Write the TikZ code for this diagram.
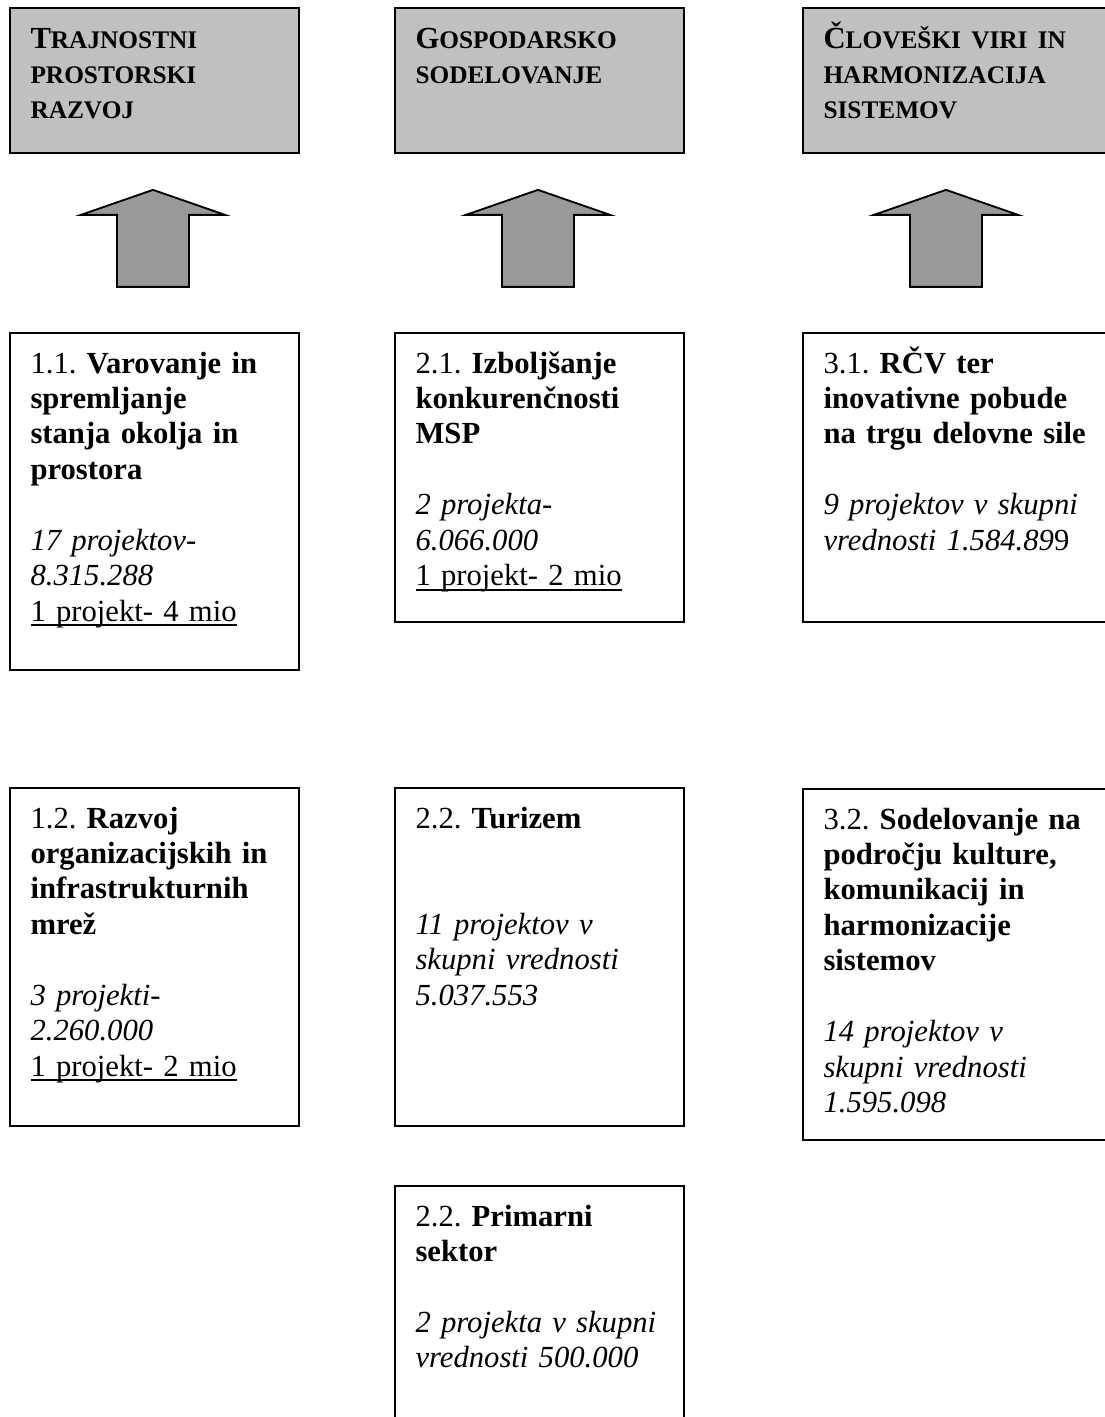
\documentclass[tikz,border=0pt]{standalone}
\usepackage{fontspec}
\setmainfont{Liberation Serif}
\usetikzlibrary{positioning}

\definecolor{topgray}{RGB}{192,192,192}
\definecolor{arrowgray}{RGB}{153,153,153}
% fake small caps: big first letter, rest smaller
\newcommand{\kap}[2]{#1{\fontsize{19}{26.6}\selectfont #2}}
% underline close under the baseline
\newcommand{\podcrtano}[1]{\leavevmode\setbox0\hbox{#1}\rlap{\vrule width\wd0 height -2.25pt depth 3.75pt}\box0}

\tikzset{every picture/.style={line width=0.75pt}}
\tikzset{
	topbox/.style={draw, line width=1.4pt, fill=topgray, minimum width=216.75pt, minimum height=108.75pt, anchor=north west, inner sep=0pt},
	prbox/.style={draw, line width=1.4pt, fill=white, minimum width=216.75pt, anchor=north west, inner sep=0pt},
	boxtext/.style={anchor=base west, inner sep=0pt, text width=215pt, align=left, font=\fontsize{23}{26.6}\selectfont\frenchspacing},
	blockarrow/.style={draw, line width=1.4pt, fill=arrowgray, line join=miter}
}

\begin{document}
\begin{tikzpicture}[x=0.75pt,y=0.75pt,yscale=-1,xscale=1]
	\clip (0,0) rectangle (1105,1417);

	% Top boxes
	\node[topbox] (os1) at (9,7) {};
	\node[topbox] (os2) at (394,7) {};
	\node[topbox, minimum width=240pt] (os3) at (802,7) {};
	\node[boxtext] (os1t) at ([shift={(21,41)}]os1.north west) {{\bfseries \kap{T}{RAJNOSTNI}\\ \kap{}{PROSTORSKI}\\ \kap{}{RAZVOJ}}};
	\node[boxtext] (os2t) at ([shift={(21,41)}]os2.north west) {{\bfseries \kap{G}{OSPODARSKO}\\ \kap{}{SODELOVANJE}}};
	\node[boxtext] (os3t) at ([shift={(21,41)}]os3.north west) {{\bfseries \kap{Č}{LOVEŠKI VIRI IN}\\ \kap{}{HARMONIZACIJA}\\ \kap{}{SISTEMOV}}};

	% Block arrows
	\foreach \n in {1,2,3}
		\draw[blockarrow] ([shift={(144,36)}]os\n.south west) -- ++(72,25) -- ++(-36,0) -- ++(0,72) -- ++(-72,0) -- ++(0,-72) -- ++(-36,0) -- cycle;

	% Priority boxes
	\node[prbox, minimum height=252.75pt] (p11) at (9,332) {};
	\node[prbox, minimum height=216.75pt] (p21) at (394,332) {};
	\node[prbox, minimum height=216.75pt, minimum width=240pt] (p31) at (802,332) {};
	\node[prbox, minimum height=253.5pt] (p12) at (9,787) {};
	\node[prbox, minimum height=253.5pt] (p22) at (394,787) {};
	\node[prbox, minimum height=263.25pt, minimum width=240pt] (p32) at (802,788) {};
	\node[prbox, minimum height=240pt] (p23) at (394,1185) {};

	% Text Nodes
	\node[boxtext] (p11t) at ([shift={(21,41)}]p11.north west) {1.1. {\bfseries Varovanje in\\ spremljanje\\ stanja okolja in\\ prostora}\\[26.6pt] {\itshape 17 projektov-\\ 8.315.288}\\ \podcrtano{1 projekt- 4 mio}};
	\node[boxtext] (p21t) at ([shift={(21,41)}]p21.north west) {2.1. {\bfseries Izboljšanje\\ konkurenčnosti\\ MSP}\\[26.6pt] {\itshape 2 projekta-\\ 6.066.000}\\ \podcrtano{1 projekt- 2 mio}};
	\node[boxtext] (p31t) at ([shift={(21,41)}]p31.north west) {3.1. {\bfseries RČV ter\\ inovativne pobude\\ na trgu delovne sile}\\[26.6pt] {\itshape 9 projektov v skupni\\ vrednosti 1.584.89}9};
	\node[boxtext] (p12t) at ([shift={(21,41)}]p12.north west) {1.2. {\bfseries Razvoj\\ organizacijskih in\\ infrastrukturnih\\ mrež}\\[26.6pt] {\itshape 3 projekti-\\ 2.260.000}\\ \podcrtano{1 projekt- 2 mio}};
	\node[boxtext] (p22t) at ([shift={(21,41)}]p22.north west) {2.2. {\bfseries Turizem}\\[53.2pt] {\itshape 11 projektov v\\ skupni vrednosti\\ 5.037.553}};
	\node[boxtext] (p32t) at ([shift={(21,41)}]p32.north west) {3.2. {\bfseries Sodelovanje na\\ področju kulture,\\ komunikacij in\\ harmonizacije\\ sistemov}\\[26.6pt] {\itshape 14 projektov v\\ skupni vrednosti\\ 1.595.098}};
	\node[boxtext] (p23t) at ([shift={(21,41)}]p23.north west) {2.2. {\bfseries Primarni\\ sektor}\\[26.6pt] {\itshape 2 projekta v skupni\\ vrednosti 500.000}};

\end{tikzpicture}
\end{document}
